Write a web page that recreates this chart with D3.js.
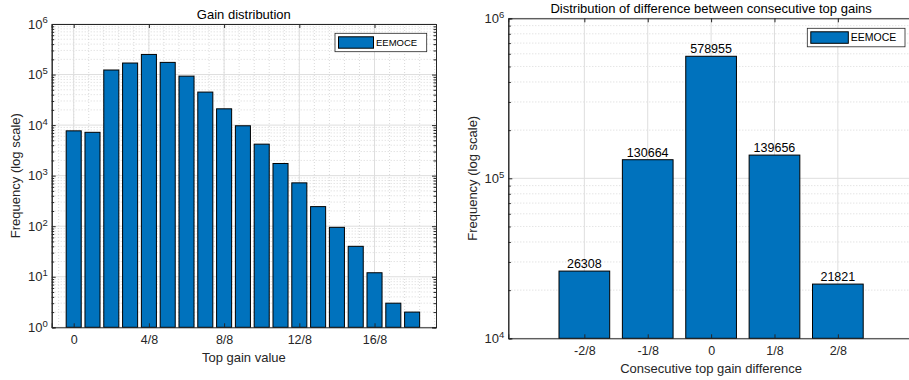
<!DOCTYPE html>
<html>
<head>
<meta charset="utf-8">
<script src="https://cdn.jsdelivr.net/npm/d3@7"></script>
<style>
  body { margin: 0; background: #fff; }
  text { font-family: "Liberation Sans", Arial, sans-serif; fill: #262626; }
  .axis path, .axis line { stroke: #262626; }
</style>
</head>
<body>
<div id="chart"></div>
<script>
// Gain distribution (top gain value, in eighths)
var gainCats   = [0, 1, 2, 3, 4, 5, 6, 7, 8, 9, 10, 11, 12, 13, 14, 15, 16, 17, 18];
var gainCounts = [7700, 7200, 123000, 169000, 250000, 174000, 93000, 45000, 21000,
                  9700, 4200, 1740, 720, 244, 95, 40, 12, 3, 2];
var gainTicks  = [0, 4, 8, 12, 16];
var gainTickLabels = ['0', '4/8', '8/8', '12/8', '16/8'];

// Difference between consecutive top gains (in eighths)
var diffCats   = [-2, -1, 0, 1, 2];
var diffCounts = [26308, 130664, 578955, 139656, 21821];
var diffTicks  = [-2, -1, 0, 1, 2];
var diffTickLabels = ['-2/8', '-1/8', '0', '1/8', '2/8'];

var seriesName = 'EEMOCE';
var barColor   = '#0072BD';

var svg = d3.select('#chart')
            .append('svg')
            .attr('width', 909)
            .attr('height', 380);

function drawPanel (cfg)
{
    var g = svg.append('g');

    var x = d3.scaleLinear()
              .domain(cfg.xDomain)
              .range([cfg.left, cfg.right]);

    var y = d3.scaleLog()
              .domain(cfg.yDomain)
              .range([cfg.bottom, cfg.top]);

    var step = x(1) - x(0);
    var barW = step * 0.8;

    var allY   = y.ticks();
    var majorY = allY.filter(function(d) { return Math.abs(Math.log10(d) - Math.round(Math.log10(d))) < 1e-9; });
    var minorY = allY.filter(function(d) { return majorY.indexOf(d) < 0; });

    // minor grid (dotted)
    g.selectAll('.minorY')
     .data(minorY)
     .enter().append('line')
     .attr('x1', cfg.left).attr('x2', cfg.right)
     .attr('y1', function(d) { return y(d); })
     .attr('y2', function(d) { return y(d); })
     .attr('stroke', '#c8c8c8')
     .attr('stroke-width', 0.7)
     .attr('stroke-dasharray', '1,2');

    if (cfg.xMinor)
    {
        g.selectAll('.minorX')
         .data(cfg.xMinor)
         .enter().append('line')
         .attr('x1', function(d) { return x(d); })
         .attr('x2', function(d) { return x(d); })
         .attr('y1', cfg.top).attr('y2', cfg.bottom)
         .attr('stroke', '#c8c8c8')
         .attr('stroke-width', 0.7)
         .attr('stroke-dasharray', '1,2');
    }

    // major grid
    g.selectAll('.majorY')
     .data(majorY)
     .enter().append('line')
     .attr('x1', cfg.left).attr('x2', cfg.right)
     .attr('y1', function(d) { return y(d); })
     .attr('y2', function(d) { return y(d); })
     .attr('stroke', '#dedede');

    g.selectAll('.majorX')
     .data(cfg.xTicks)
     .enter().append('line')
     .attr('x1', function(d) { return x(d); })
     .attr('x2', function(d) { return x(d); })
     .attr('y1', cfg.top).attr('y2', cfg.bottom)
     .attr('stroke', '#dedede');

    // bars
    g.selectAll('.bar')
     .data(cfg.cats)
     .enter().append('rect')
     .attr('x', function(d) { return x(d) - barW / 2; })
     .attr('y', function(d, i) { return y(cfg.values[i]); })
     .attr('width', barW)
     .attr('height', function(d, i) { return cfg.bottom - y(cfg.values[i]); })
     .attr('fill', barColor)
     .attr('stroke', '#000')
     .attr('stroke-width', 1);

    if (cfg.barLabels)
    {
        g.selectAll('.blab')
         .data(cfg.cats)
         .enter().append('text')
         .attr('x', function(d) { return x(d); })
         .attr('y', function(d, i) { return y(cfg.values[i]) - 3; })
         .attr('text-anchor', 'middle')
         .attr('font-size', 12.5)
         .style('fill', '#000')
         .text(function(d, i) { return cfg.values[i]; });
    }

    // axes (ticks inward, box on)
    var xAxis = d3.axisBottom(x)
                  .tickValues(cfg.xTicks)
                  .tickSize(-4)
                  .tickPadding(8)
                  .tickFormat(function(d, i) { return cfg.xTickLabels[i]; });

    var xTop = d3.axisTop(x)
                 .tickValues(cfg.xTicks)
                 .tickSize(-4)
                 .tickFormat('');

    var yAxis = d3.axisLeft(y)
                  .tickValues(majorY)
                  .tickSize(-4)
                  .tickPadding(4);

    var yMinorL = d3.axisLeft(y).tickValues(minorY).tickSize(-2.5).tickFormat('');
    var yRight  = d3.axisRight(y).tickValues(majorY).tickSize(-4).tickFormat('');
    var yMinorR = d3.axisRight(y).tickValues(minorY).tickSize(-2.5).tickFormat('');

    g.append('g').attr('class', 'axis')
     .attr('transform', 'translate(0,' + cfg.bottom + ')')
     .call(xAxis)
     .selectAll('text').attr('font-size', 12.5).style('fill', '#262626');

    g.append('g').attr('class', 'axis')
     .attr('transform', 'translate(0,' + cfg.top + ')')
     .call(xTop);

    var ya = g.append('g').attr('class', 'axis')
              .attr('transform', 'translate(' + cfg.left + ',0)')
              .call(yAxis);
    ya.selectAll('text')
      .attr('font-size', 13)
      .style('fill', '#262626')
      .each(function(d) {
          var t = d3.select(this);
          t.text('10');
          t.append('tspan')
           .attr('dy', '-0.55em')
           .attr('font-size', 9.5)
           .text(Math.round(Math.log10(d)));
      });

    g.append('g').attr('class', 'axis')
     .attr('transform', 'translate(' + cfg.left + ',0)')
     .call(yMinorL);

    g.append('g').attr('class', 'axis')
     .attr('transform', 'translate(' + cfg.right + ',0)')
     .call(yRight);

    g.append('g').attr('class', 'axis')
     .attr('transform', 'translate(' + cfg.right + ',0)')
     .call(yMinorR);

    g.selectAll('.axis path').attr('stroke-width', 1);

    // title and labels
    var cx = (cfg.left + cfg.right) / 2;
    g.append('text')
     .attr('x', cx)
     .attr('y', cfg.top - 5)
     .attr('text-anchor', 'middle')
     .attr('font-size', 13)
     .style('fill', '#000')
     .text(cfg.title);

    g.append('text')
     .attr('x', cx)
     .attr('y', cfg.bottom + 35)
     .attr('text-anchor', 'middle')
     .attr('font-size', 13)
     .text(cfg.xLabel);

    g.append('text')
     .attr('transform', 'translate(' + (cfg.left - 31.5) + ',' + ((cfg.top + cfg.bottom) / 2) + ') rotate(-90)')
     .attr('text-anchor', 'middle')
     .attr('font-size', 13)
     .text('Frequency (log scale)');

    // legend
    var lg = g.append('g')
              .attr('transform', 'translate(' + cfg.legend.x + ',' + cfg.legend.y + ')');
    lg.append('rect')
      .attr('width', cfg.legend.w).attr('height', cfg.legend.h)
      .attr('fill', '#fff').attr('stroke', '#262626').attr('stroke-width', 0.8);
    lg.append('rect')
      .attr('x', 3.5).attr('y', 3.5)
      .attr('width', cfg.legend.sw).attr('height', cfg.legend.h - 7)
      .attr('fill', barColor).attr('stroke', '#000');
    lg.append('text')
      .attr('x', cfg.legend.sw + 6)
      .attr('y', cfg.legend.h / 2)
      .attr('dy', '0.35em')
      .attr('font-size', cfg.legend.fs)
      .style('fill', '#000')
      .text(seriesName);
}

var gainMinor = d3.range(-0.8, 19.3, 0.8);

drawPanel({
    cats: gainCats, values: gainCounts,
    xDomain: [-1.17, 19.27], yDomain: [1, 1e6],
    left: 51.7, right: 436, top: 24, bottom: 327.3,
    xTicks: gainTicks, xTickLabels: gainTickLabels, xMinor: gainMinor,
    title: 'Gain distribution', xLabel: 'Top gain value',
    legend: { x: 335, y: 33.3, w: 91.7, h: 18.4, sw: 35, fs: 9.5 }
});

drawPanel({
    cats: diffCats, values: diffCounts, barLabels: true,
    xDomain: [-3.2, 3.2], yDomain: [1e4, 1e6],
    left: 508.3, right: 913.9, top: 18.3, bottom: 338.3,
    xTicks: diffTicks, xTickLabels: diffTickLabels,
    title: 'Distribution of difference between consecutive top gains',
    xLabel: 'Consecutive top gain difference',
    legend: { x: 807.3, y: 28.3, w: 97.7, h: 18.5, sw: 37.5, fs: 10.5 }
});
</script>
</body>
</html>
